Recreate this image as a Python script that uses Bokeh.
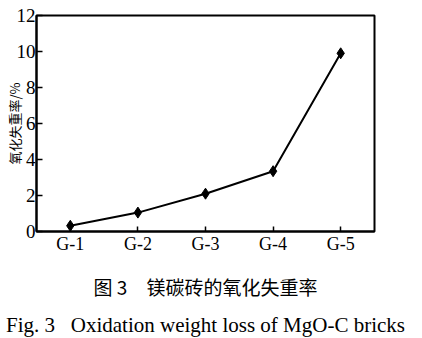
from bokeh.plotting import figure
from bokeh.models import FactorRange, Range1d, Title, FixedTicker
from bokeh.embed import file_html
from bokeh.resources import INLINE

samples = ["G-1", "G-2", "G-3", "G-4", "G-5"]
loss = [0.32, 1.05, 2.1, 3.35, 9.9]
yticks = [0, 2, 4, 6, 8, 10, 12]
ylabel = "氧化失重率/%"
cap_cn = "图\u00a03\u3000镁碳砖的氧化失重率"
cap_en = "Fig.\u00a03\u00a0\u00a0\u00a0Oxidation weight loss of MgO-C bricks"

p = figure(width=422, height=338, x_range=FactorRange(*samples),
           y_range=Range1d(0, 12), output_backend="svg", toolbar_location=None,
           min_border_left=36, min_border_right=48, min_border_top=15,
           min_border_bottom=107)
p.background_fill_color = "white"
p.border_fill_color = "white"
p.grid.visible = False
p.outline_line_color = "black"
p.outline_line_width = 2

p.line(samples, loss, line_color="black", line_width=2)
p.scatter(samples, loss, marker="diamond", size=11, color="black")

ya = p.yaxis[0]
ya.ticker = FixedTicker(ticks=yticks)
ya.major_tick_in = 6
ya.major_tick_out = 0
ya.minor_tick_line_color = None
ya.axis_line_width = 2
ya.major_tick_line_width = 1.5
ya.major_label_text_font = "Liberation Serif"
ya.major_label_text_font_size = "19px"
ya.major_label_text_color = "black"
ya.major_label_standoff = 1
ya.axis_label = ylabel
ya.axis_label_text_font = "Noto Sans CJK SC"
ya.axis_label_text_font_size = "13px"
ya.axis_label_text_font_style = "normal"
ya.axis_label_text_color = "black"
ya.axis_label_standoff = -10

xa = p.xaxis[0]
xa.major_tick_in = 5
xa.major_tick_out = 0
xa.axis_line_width = 2
xa.major_tick_line_width = 1.5
xa.major_label_text_font = "Liberation Serif"
xa.major_label_text_font_size = "18px"
xa.major_label_text_color = "black"
xa.major_label_standoff = 2

t1 = Title(text=cap_cn, align="center", text_font="Noto Sans CJK SC",
           text_font_size="19px", text_font_style="normal", text_color="black",
           standoff=29)
t2 = Title(text=cap_en, align="center", text_font="Liberation Serif",
           text_font_size="21px", text_font_style="normal", text_color="black",
           standoff=-8)
p.add_layout(t1, "below")
p.add_layout(t2, "below")

open("out.html", "w").write(file_html(p, INLINE))
